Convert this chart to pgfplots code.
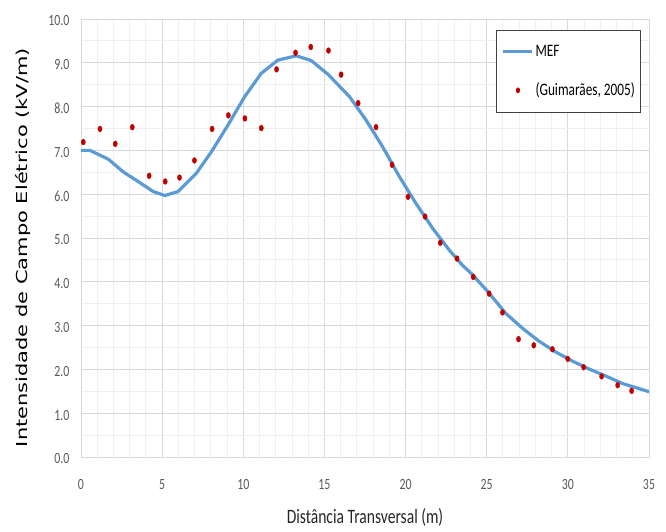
\documentclass[border=0pt]{standalone}
\usepackage{pgfplots}
\pgfplotsset{compat=1.18}
\usepackage{fontspec}
\newfontfamily\calib[FakeStretch=0.76]{Carlito}
\newfontfamily\dejavu{DejaVu Sans}
\definecolor{mefblue}{HTML}{5B9BD5}
\definecolor{ptred}{HTML}{C00000}
\definecolor{gmaj}{HTML}{D9D9D9}
\definecolor{gmin}{HTML}{F0F0F0}
\definecolor{ticktxt}{HTML}{595959}
\begin{document}
\begin{tikzpicture}
\path[use as bounding box] (-81pt,-75pt) rectangle (585pt,457pt);
\begin{axis}[
  at={(0pt,0pt)}, anchor=south west,
  scale only axis, width=568pt, height=438pt,
  xmin=0, xmax=35, ymin=0, ymax=10,
  xtick={0,5,...,35}, ytick={0,1,...,10},
  minor x tick num=4, minor y tick num=1,
  grid=both,
  major grid style={gmaj, line width=0.9pt},
  minor grid style={gmin, line width=0.9pt},
  axis line style={gmaj, line width=0.9pt},
  major tick length=0pt, minor tick length=0pt,
  /pgf/number format/assume math mode=true,
  yticklabel style={/pgf/number format/fixed, /pgf/number format/fixed zerofill, /pgf/number format/precision=1,
     anchor=east, inner sep=0pt, xshift=-11.5pt, yshift=-1.8pt},
  xticklabel style={anchor=base, inner sep=0pt, yshift=-33pt},
  tick label style={font=\calib\fontsize{15.6}{18}\selectfont, text=ticktxt},
  xlabel={Distância Transversal (m)},
  xlabel style={at={(axis description cs:0.5,0)}, anchor=base, yshift=-66.3pt, inner sep=0pt,
     font=\calib\fontsize{20.5}{24}\selectfont, text=black!85},
  ylabel={\scalebox{1}[0.72]{Intensidade de Campo Elétrico (kV/m)}},
  ylabel style={at={([xshift=-53.3pt]axis description cs:0,0.478)}, anchor=base, inner sep=0pt,
     font=\dejavu\fontsize{20.95}{24}\selectfont, text=black},
  legend style={at={(rel axis cs:0.7306,0.975)}, anchor=north west, draw=black!75, line width=0.8pt,
     font=\calib\fontsize{17.5}{20}\selectfont, inner xsep=5.5pt, inner ysep=14.5pt, row sep=25.6pt,
     nodes={inner sep=0pt}, text=black},
  legend cell align=left,
  /tikz/every odd column/.append style={column sep=1.5pt},
]
\addplot[mefblue, line width=3.2pt, line join=round,
  legend image code/.code={\draw[mefblue, line width=3.2pt] (0pt,0pt) -- (29pt,0pt);}] coordinates {
(0,7.0) (0.55,7.0) (1.68,6.8) (2.6,6.51) (3.52,6.29) (4.45,6.06) (5.17,5.97) (5.98,6.06)
(7.11,6.48) (8.04,6.97) (9.06,7.58) (10.09,8.23) (11.11,8.76) (12.13,9.06) (13.26,9.16)
(14.19,9.05) (15.21,8.74) (16.54,8.23) (17.57,7.69) (18.59,7.08) (19.62,6.4) (20.64,5.79)
(21.67,5.22) (22.7,4.72) (23.5,4.38) (24.13,4.16) (25.15,3.74) (26.17,3.28) (27.2,2.94)
(28.2,2.65) (29.24,2.40) (30.28,2.19) (31.3,2.01) (32.33,1.85) (33.35,1.68) (35,1.49)
};
\addlegendentry{MEF}
\addplot[ptred, only marks, mark=*, mark size=2.9pt, mark options={xscale=0.72, fill=ptred, draw=none},
  legend image code/.code={\path[draw=none] (0pt,0pt) -- (29pt,0pt); \fill[ptred, draw=none] (14.5pt,0pt) ellipse (2.1pt and 2.9pt);}] coordinates {
(0.14,7.19) (1.17,7.49) (2.11,7.15) (3.16,7.53) (4.2,6.42) (5.19,6.29) (6.07,6.38) (6.99,6.77)
(8.08,7.49) (9.08,7.8) (10.1,7.73) (11.11,7.51) (12.05,8.85) (13.22,9.23) (14.16,9.36)
(15.25,9.28) (16.03,8.73) (17.08,8.08) (18.18,7.53) (19.17,6.67) (20.15,5.94) (21.2,5.49)
(22.14,4.89) (23.17,4.53) (24.17,4.11) (25.15,3.73) (25.97,3.30) (26.96,2.69) (27.9,2.55)
(29.05,2.46) (29.99,2.24) (30.97,2.05) (32.08,1.84) (33.07,1.64) (33.93,1.51)
};
\addlegendentry{(Guimarães, 2005)}
\end{axis}
\end{tikzpicture}
\end{document}
